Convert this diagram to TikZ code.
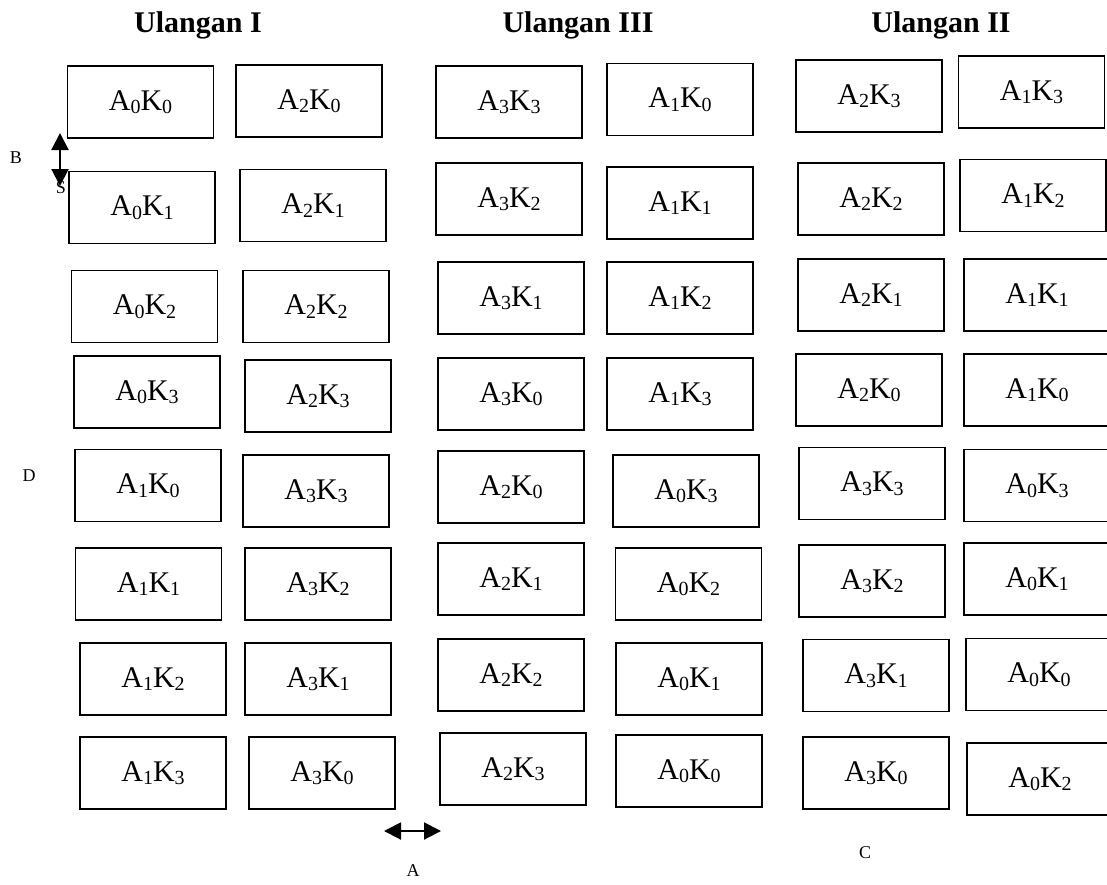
\documentclass[tikz,border=0pt]{standalone}
\usepackage{fontspec}
\setmainfont{Liberation Serif}
\usetikzlibrary{arrows.meta}
\newcommand{\sub}[1]{\raisebox{-3.5pt}{\fontsize{20}{20}\selectfont #1}}
\begin{document}
\begin{tikzpicture}[x=1pt,y=-1pt,
  cell/.style={draw,line width=1.6pt,minimum width=146pt,minimum height=72pt,inner sep=0pt,
    font=\fontsize{30}{36}\selectfont},
  title/.style={font=\fontsize{30}{36}\selectfont\bfseries,anchor=base},
  lbl/.style={font=\fontsize{18}{20}\selectfont,inner sep=0pt},
  dbl/.style={line width=2pt,{Triangle[length=17pt,width=17pt]}-{Triangle[length=17pt,width=17pt]}}]
\useasboundingbox (0,0) rectangle (1107,884);
\node[title] (t1) at (198,32) {Ulangan I};
\node[title] (t2) at (578,32) {Ulangan III};
\node[title] (t3) at (941,32) {Ulangan II};
% Ulangan I
\node[cell] (a1) at (140.5,102) {A\sub{0}K\sub{0}};
\node[cell] (a2) at (142,207.5) {A\sub{0}K\sub{1}};
\node[cell] (a3) at (144.5,306.5) {A\sub{0}K\sub{2}};
\node[cell] (a4) at (147,392) {A\sub{0}K\sub{3}};
\node[cell] (a5) at (148,485.5) {A\sub{1}K\sub{0}};
\node[cell] (a6) at (148.5,584) {A\sub{1}K\sub{1}};
\node[cell] (a7) at (153,679) {A\sub{1}K\sub{2}};
\node[cell] (a8) at (153,773) {A\sub{1}K\sub{3}};
\node[cell] (b1) at (309,101) {A\sub{2}K\sub{0}};
\node[cell] (b2) at (313,205.5) {A\sub{2}K\sub{1}};
\node[cell] (b3) at (316,306.5) {A\sub{2}K\sub{2}};
\node[cell] (b4) at (318,396) {A\sub{2}K\sub{3}};
\node[cell] (b5) at (316,491) {A\sub{3}K\sub{3}};
\node[cell] (b6) at (318,584) {A\sub{3}K\sub{2}};
\node[cell] (b7) at (318,679) {A\sub{3}K\sub{1}};
\node[cell] (b8) at (322,773) {A\sub{3}K\sub{0}};
% Ulangan III
\node[cell] (c1) at (509,102) {A\sub{3}K\sub{3}};
\node[cell] (c2) at (509,199) {A\sub{3}K\sub{2}};
\node[cell] (c3) at (511,298) {A\sub{3}K\sub{1}};
\node[cell] (c4) at (511,394) {A\sub{3}K\sub{0}};
\node[cell] (c5) at (511,487) {A\sub{2}K\sub{0}};
\node[cell] (c6) at (511,579) {A\sub{2}K\sub{1}};
\node[cell] (c7) at (511,675) {A\sub{2}K\sub{2}};
\node[cell] (c8) at (513,769) {A\sub{2}K\sub{3}};
\node[cell] (d1) at (680,99.5) {A\sub{1}K\sub{0}};
\node[cell] (d2) at (680,203) {A\sub{1}K\sub{1}};
\node[cell] (d3) at (680,298) {A\sub{1}K\sub{2}};
\node[cell] (d4) at (680,394) {A\sub{1}K\sub{3}};
\node[cell] (d5) at (686,491) {A\sub{0}K\sub{3}};
\node[cell] (d6) at (688.5,584) {A\sub{0}K\sub{2}};
\node[cell] (d7) at (689,679) {A\sub{0}K\sub{1}};
\node[cell] (d8) at (689,771) {A\sub{0}K\sub{0}};
% Ulangan II
\node[cell] (e1) at (869,96) {A\sub{2}K\sub{3}};
\node[cell] (e2) at (871,199) {A\sub{2}K\sub{2}};
\node[cell] (e3) at (871,295) {A\sub{2}K\sub{1}};
\node[cell] (e4) at (869,390) {A\sub{2}K\sub{0}};
\node[cell] (e5) at (872,483.5) {A\sub{3}K\sub{3}};
\node[cell] (e6) at (872,581) {A\sub{3}K\sub{2}};
\node[cell] (e7) at (876,675.5) {A\sub{3}K\sub{1}};
\node[cell] (e8) at (876,773) {A\sub{3}K\sub{0}};
\node[cell] (f1) at (1031.5,92) {A\sub{1}K\sub{3}};
\node[cell] (f2) at (1033,195.5) {A\sub{1}K\sub{2}};
\node[cell] (f3) at (1037,295) {A\sub{1}K\sub{1}};
\node[cell] (f4) at (1037,390) {A\sub{1}K\sub{0}};
\node[cell] (f5) at (1037,485.5) {A\sub{0}K\sub{3}};
\node[cell] (f6) at (1037,579) {A\sub{0}K\sub{1}};
\node[cell] (f7) at (1039,674.5) {A\sub{0}K\sub{0}};
\node[cell] (f8) at (1040,779) {A\sub{0}K\sub{2}};
% labels and arrows
\node[lbl] (lB) at (16,158) {B};
\node[lbl] (lS) at (61,188) {S};
\node[lbl] (lD) at (29,476) {D};
\node[lbl] (lA) at (413,871) {A};
\node[lbl] (lC) at (865,853) {C};
\coordinate (bt) at (60,133);
\coordinate (bb) at (60,186);
\coordinate (al) at (384,831);
\coordinate (ar) at (441,831);
\draw[dbl] (bt) -- (bb);
\draw[dbl] (al) -- (ar);
\end{tikzpicture}
\end{document}
